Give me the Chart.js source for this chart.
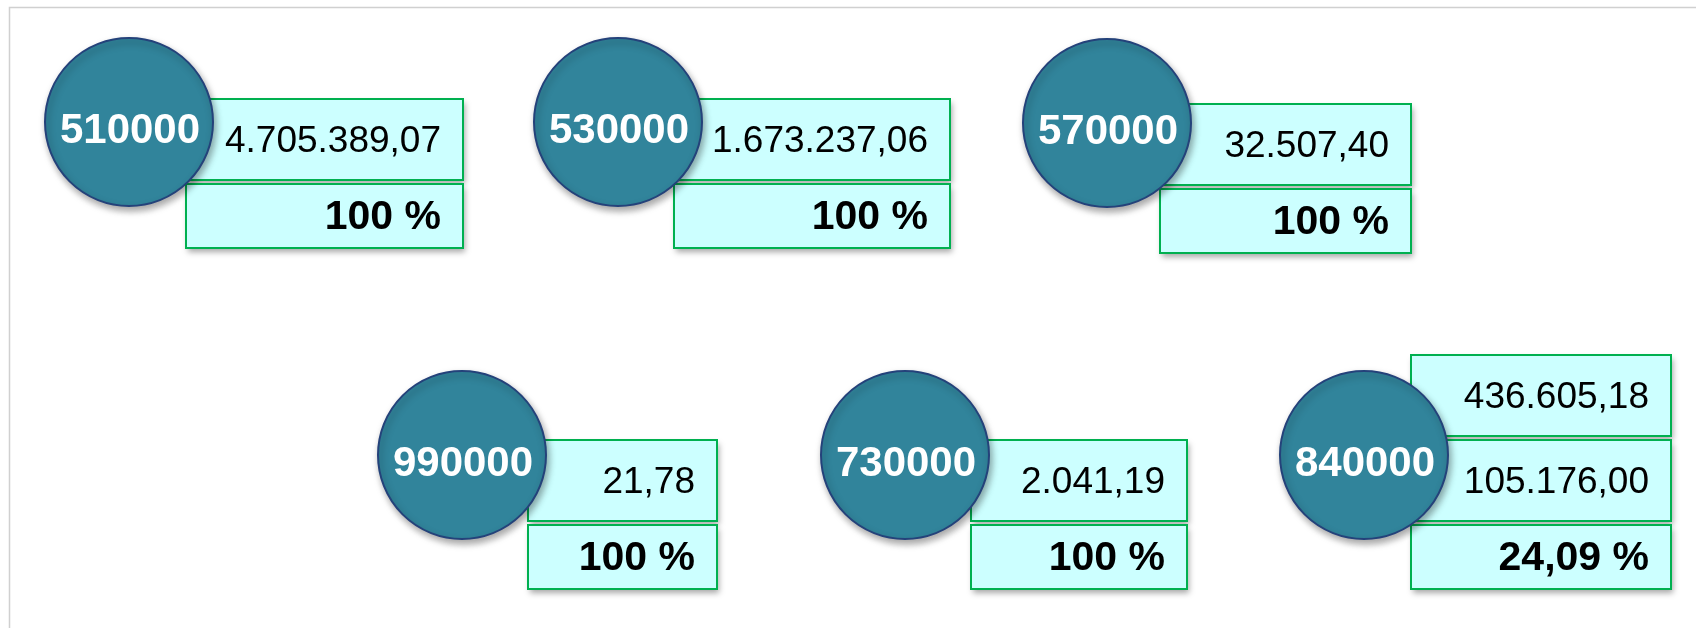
<!DOCTYPE html>
<html>
<head>
<meta charset="utf-8">
<script src="https://cdn.jsdelivr.net/npm/chart.js@4/dist/chart.umd.min.js"></script>
<style>
  html, body { margin: 0; padding: 0; background: #fff; }
  #wrap { width: 1696px; height: 628px; position: relative; }
</style>
</head>
<body>
<div id="wrap"><canvas id="myChart"></canvas></div>
<script>
// Account codes shown in the circles
var codes = ['510000', '530000', '570000', '990000', '730000', '840000'];
// Amounts listed in the boxes next to each code
var amounts = [
  [4705389.07],
  [1673237.06],
  [32507.40],
  [21.78],
  [2041.19],
  [436605.18, 105176.00]
];
// Percentage shown in the last box
var shares = [100, 100, 100, 100, 100, 24.09];

// Where each group sits on the (hidden) layout scales
var layout = [
  { x: 129,  y: 122, left: 186,  right: 463,  top: 99 },
  { x: 618,  y: 122, left: 674,  right: 950,  top: 99 },
  { x: 1107, y: 123, left: 1160, right: 1411, top: 104 },
  { x: 462,  y: 455, left: 528,  right: 717,  top: 440 },
  { x: 905,  y: 455, left: 971,  right: 1187, top: 440 },
  { x: 1364, y: 455, left: 1411, right: 1671, top: 355 }
];

var fontFamily = '"Liberation Sans", Arial, Helvetica, sans-serif';

// format numbers like 4.705.389,07
function fmt(v, dec) {
  var parts = v.toFixed(dec).split('.');
  var int = parts[0].replace(/\B(?=(\d{3})+(?!\d))/g, '.');
  return parts.length > 1 ? int + ',' + parts[1] : int;
}

// Draws the value boxes behind the circles, and the codes on top
var boxesPlugin = {
  id: 'boxes',
  beforeDraw(chart) {
    const ctx = chart.ctx;
    ctx.save();
    ctx.strokeStyle = '#d0d0d0';
    ctx.lineWidth = 1.5;
    ctx.strokeRect(9.5, 7.5, chart.width + 20, chart.height + 20);
    ctx.restore();
  },
  beforeDatasetsDraw(chart) {
    const ctx = chart.ctx;
    const xs = chart.scales.x, ys = chart.scales.y;
    layout.forEach((l, i) => {
      const left = xs.getPixelForValue(l.left);
      const right = xs.getPixelForValue(l.right);
      let top = ys.getPixelForValue(l.top);
      const rows = amounts[i].map(a => ({ text: fmt(a, 2), bold: false, h: 81 }));
      rows.push({ text: fmt(shares[i], shares[i] % 1 ? 2 : 0) + ' %', bold: true, h: 64 });
      rows.forEach(r => {
        ctx.save();
        ctx.shadowColor = 'rgba(0,0,0,0.35)';
        ctx.shadowBlur = 6;
        ctx.shadowOffsetX = 2;
        ctx.shadowOffsetY = 4;
        ctx.fillStyle = '#ccffff';
        ctx.fillRect(left, top, right - left, r.h);
        ctx.restore();
        ctx.save();
        ctx.strokeStyle = '#00b050';
        ctx.lineWidth = 2;
        ctx.strokeRect(left, top, right - left, r.h);
        ctx.fillStyle = '#000';
        ctx.font = (r.bold ? 'bold 41px ' : '37px ') + fontFamily;
        ctx.textAlign = 'right';
        ctx.textBaseline = 'middle';
        ctx.fillText(r.text, right - 22, top + r.h / 2 + 2);
        ctx.restore();
        top += r.h + 4;
      });
    });
  },
  beforeDatasetDraw(chart) {
    const ctx = chart.ctx;
    ctx.save();
    ctx.shadowColor = 'rgba(0,0,0,0.35)';
    ctx.shadowBlur = 7;
    ctx.shadowOffsetX = 2;
    ctx.shadowOffsetY = 4;
  },
  afterDatasetDraw(chart) {
    chart.ctx.restore();
  },
  afterDatasetsDraw(chart) {
    const ctx = chart.ctx;
    const meta = chart.getDatasetMeta(0);
    ctx.save();
    ctx.fillStyle = '#fff';
    ctx.font = 'bold 42px ' + fontFamily;
    ctx.textAlign = 'center';
    ctx.textBaseline = 'middle';
    meta.data.forEach((pt, i) => {
      ctx.fillText(codes[i], pt.x + 1, pt.y + 9);
    });
    ctx.restore();
  }
};

const ctx = document.getElementById('myChart');
var myChart = new Chart(ctx, {
  type: 'scatter',
  data: {
    datasets: [{
      label: 'Konten',
      data: layout.map(l => ({ x: l.x, y: l.y })),
      pointRadius: 84,
      pointHoverRadius: 84,
      pointBackgroundColor: '#31849b',
      pointBorderColor: '#24427a',
      pointBorderWidth: 2,
      clip: false
    }]
  },
  options: {
    responsive: true,
    maintainAspectRatio: false,
    animation: false,
    layout: { padding: 0, autoPadding: false },
    events: [],
    scales: {
      x: { type: 'linear', min: 0, max: 1696, display: false },
      y: { type: 'linear', min: 0, max: 628, reverse: true, display: false }
    },
    plugins: {
      legend: { display: false },
      tooltip: { enabled: false }
    }
  },
  plugins: [boxesPlugin]
});
</script>
</body>
</html>
